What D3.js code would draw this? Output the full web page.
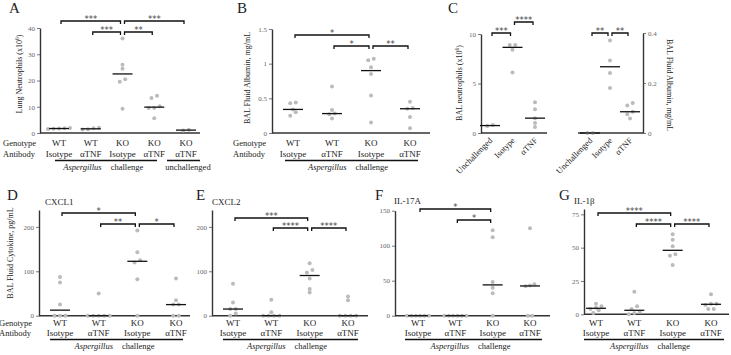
<!DOCTYPE html>
<html>
<head>
<meta charset="utf-8">
<script src="https://cdn.jsdelivr.net/npm/d3@7"></script>
<style>
  body { margin: 0; background: #fff; }
  svg { display: block; font-family: 'Liberation Serif', 'DejaVu Serif', 'Times New Roman', serif; }
  svg text { font-family: 'Liberation Serif', 'DejaVu Serif', 'Times New Roman', serif; fill: #222; }
  svg text.star { font-family: 'DejaVu Sans', sans-serif; fill: #444; }
</style>
</head>
<body>
<svg width="731" height="355"></svg>
<script>
// group labels
const genotype4 = ["WT", "WT", "KO", "KO"];
const antibody4 = ["Isotype", "αTNF", "Isotype", "αTNF"];
const genotypeA = ["WT", "WT", "KO", "KO", "KO"];
const antibodyA = ["Isotype", "αTNF", "Isotype", "αTNF", "αTNF"];
const treatmentC = ["Unchallenged", "Isotype", "αTNF"];

// values per group
const lungNeutrophils = [[1.5, 1.8, 1.9, 1.7, 1.6], [1.3, 2.0, 1.8, 1.4], [36, 26, 24.5, 20.5, 19.5, 9.2], [14.2, 13.3, 10.2, 9.5, 9.5, 5.6], [1.0, 1.2]];
const balAlbumin = [[0.44, 0.43, 0.34, 0.30, 0.25], [0.67, 0.33, 0.28, 0.27, 0.21], [1.07, 1.05, 0.95, 0.85, 0.54, 0.15], [0.45, 0.36, 0.35, 0.23, 0.07]];
const balNeutrophilsC = [[0.7, 0.8], [8.9, 8.9, 8.4, 6.1], [3.1, 2.4, 1.5, 1.0, 0.6]];
const balAlbuminC = [[0, 0], [0.37, 0.29, 0.24, 0.18], [0.12, 0.11, 0.085, 0.075, 0.058]];
const cxcl1 = [[87, 75, 25, 0, 0, 0], [50, 0, 0, 0, 0, 0], [192, 143, 125, 120, 82, 0], [84, 35, 25, 25, 0, 0]];
const cxcl2 = [[72, 30, 15, 15, 5, 0], [36, 8, 0, 0, 0, 0], [118, 103, 97, 84, 60, 52], [43, 35, 0, 0, 0, 0]];
const il17a = [[0, 0, 0, 0, 0, 0], [0, 0, 0, 0, 0, 0], [122, 112, 48, 40, 32, 0], [125, 45, 43, 42, 0, 0]];
const il1b = [[8, 6, 5, 4, 3, 1], [17, 6, 4, 2, 1, 0], [60, 56, 51, 45, 44, 37], [15, 8, 8, 7, 4, 4]];

// comparisons: [from group, to group, level, stars]
const compA = [[0, 2, 1, "***"], [2, 4, 1, "***"], [1, 2, 0, "***"], [2, 3, 0, "**"]];
const compB = [[0, 2, 1, "*"], [1, 2, 0, "*"], [2, 3, 0, "**"]];
const compC1 = [[0, 1, 0, "***"], [1, 2, 1, "****"]];
const compC2 = [[0, 1, 0, "**"], [1, 2, 0, "**"]];
const compD = [[0, 2, 1, "*"], [1, 2, 0, "**"], [2, 3, 0, "*"]];
const compE = [[0, 2, 1, "***"], [1, 2, 0, "****"], [2, 3, 0, "****"]];
const compF = [[0, 2, 1, "*"], [1, 2, 0, "*"]];
const compG = [[0, 2, 1, "****"], [1, 2, 0, "****"], [2, 3, 0, "****"]];

const svg = d3.select("svg");

// spread points that sit at nearly the same height side by side
function spread(vals, y, step) {
  const idx = d3.range(vals.length).sort((a, b) => vals[a] - vals[b]);
  const off = [];
  let cl = [];
  const flush = () => { cl.forEach((k, j) => off[k] = (j - (cl.length - 1) / 2) * step); cl = []; };
  idx.forEach(k => {
    if (cl.length && Math.abs(y(vals[k]) - y(vals[cl[0]])) > 3.5) flush();
    cl.push(k);
  });
  flush();
  return off;
}

function txt(sel, size) {
  return sel.append("text").attr("font-size", size);
}

function panel(p) {
  const g = svg.append("g");
  const y = d3.scaleLinear().domain([0, p.max]).range([p.bottom, p.top]);
  const x = d3.scalePoint().domain(d3.range(p.data.length)).range(p.xr);

  // y axis
  const axis = (p.right ? d3.axisRight(y) : d3.axisLeft(y))
    .tickValues(p.ticks).tickSize(3).tickSizeOuter(0).tickPadding(2)
    .tickFormat(d3.format(""));
  const ya = g.append("g").attr("transform", `translate(${p.ax},0)`).call(axis)
    .attr("font-family", null);
  ya.select(".domain").attr("stroke", "#333").attr("stroke-width", 1.4);
  ya.selectAll(".tick line").attr("stroke", "#555").attr("stroke-width", 0.8);
  ya.selectAll(".tick text").attr("font-size", 7).style("fill", "#666");

  // x axis line
  g.append("line").attr("x1", p.xa[0]).attr("x2", p.xa[1])
    .attr("y1", p.bottom).attr("y2", p.bottom)
    .attr("stroke", "#333").attr("stroke-width", 1.4);

  // points and medians
  p.data.forEach((vals, i) => {
    const off = spread(vals, y, p.step || 5.5);
    g.selectAll(null).data(vals).join("circle")
      .attr("cx", (d, k) => x(i) + off[k])
      .attr("cy", d => y(d))
      .attr("r", 2)
      .attr("fill", "#bbb");
    const m = d3.median(vals);
    g.append("line").attr("x1", x(i) - 10).attr("x2", x(i) + 10)
      .attr("y1", y(m)).attr("y2", y(m))
      .attr("stroke", "#111").attr("stroke-width", 1.3);
  });

  // significance brackets
  p.comps.forEach(([a, b, lev, s]) => {
    const by = p.bY - lev * p.bGap;
    const x1 = x(a) + 2, x2 = x(b) - 2;
    g.append("path").attr("d", `M${x1},${by + 3}V${by}H${x2}V${by + 3}`)
      .attr("fill", "none").attr("stroke", "#111").attr("stroke-width", 1.3);
    txt(g, 8.5).attr("class", "star").attr("x", (x1 + x2) / 2).attr("y", by + 0.5)
      .attr("text-anchor", "middle").text(s);
  });

  // panel letter and title
  if (p.letter) txt(g, 15).attr("x", p.letter[0]).attr("y", p.letter[1]).text(p.letter[2]);
  if (p.title) txt(g, 9).attr("x", p.title[0]).attr("y", p.title[1]).text(p.title[2]);

  // y label
  if (p.ylab) {
    const t = txt(g, 8)
      .attr("transform", `translate(${p.ylab[0]},${p.ylab[1]}) rotate(${p.right ? 90 : -90})`)
      .attr("text-anchor", "middle");
    t.append("tspan").text(p.ylab[2]);
    if (p.ylab[3]) {
      t.append("tspan").attr("font-size", 5.5).attr("dy", -3).text(p.ylab[3]);
      t.append("tspan").attr("dy", 3).text(")");
    }
  }

  // group labels
  if (p.geno) {
    g.selectAll(null).data(p.geno).join("text")
      .attr("x", (d, i) => x(i)).attr("y", p.rows[0])
      .attr("text-anchor", "middle").attr("font-size", 9).text(d => d);
    g.selectAll(null).data(p.anti).join("text")
      .attr("x", (d, i) => x(i)).attr("y", p.rows[1])
      .attr("text-anchor", "middle").attr("font-size", 9).text(d => d);
    if (p.rowTitle != null) {
      txt(g, 8.5).attr("x", p.rowTitle).attr("y", p.rows[0]).text("Genotype");
      txt(g, 8.5).attr("x", p.rowTitle).attr("y", p.rows[1]).text("Antibody");
    }
    g.append("line").attr("x1", p.under[0]).attr("x2", p.under[1])
      .attr("y1", p.rows[2]).attr("y2", p.rows[2]).attr("stroke", "#111").attr("stroke-width", 1.3);
    const mid = (x(1) + x(2)) / 2;
    txt(g, 8.5).attr("x", mid - 5).attr("y", p.rows[3]).attr("text-anchor", "end")
      .attr("font-style", "italic").text("Aspergillus");
    txt(g, 8.5).attr("x", mid + 4).attr("y", p.rows[3]).text("challenge");
    if (p.under2) {
      g.append("line").attr("x1", p.under2[0]).attr("x2", p.under2[1])
        .attr("y1", p.rows[2]).attr("y2", p.rows[2]).attr("stroke", "#111").attr("stroke-width", 1.3);
      txt(g, 8.5).attr("x", x(4) + 2).attr("y", p.rows[3]).attr("text-anchor", "middle")
        .text("unchallenged");
    }
  }

  // rotated treatment labels
  if (p.rot) {
    g.selectAll(null).data(p.rot).join("text")
      .attr("transform", (d, i) => `translate(${x(i) + 3},${p.bottom + 8}) rotate(-45)`)
      .attr("text-anchor", "end").attr("font-size", 8.5).text(d => d);
  }
}

const topRows = [146, 157, 160.5, 170];
const botRows = [326, 336, 339.5, 349];

panel({ data: lungNeutrophils, comps: compA, ax: 40, xa: [40, 200], xr: [59, 186], top: 28, bottom: 133,
  max: 40, ticks: [0, 10, 20, 30, 40], bY: 32, bGap: 11, letter: [9, 13, "A"],
  ylab: [22, 74, "Lung Neutrophils (x10", "6"], geno: genotypeA, anti: antibodyA, rows: topRows,
  rowTitle: 3, under: [55, 157], under2: [167, 200] });

panel({ data: balAlbumin, comps: compB, ax: 272, xa: [272, 430], xr: [293, 410], top: 29, bottom: 133,
  max: 1.5, ticks: [0, 0.5, 1, 1.5], bY: 46, bGap: 11, letter: [237, 13, "B"],
  ylab: [250, 78, "BAL Fluid Albumin, mg/mL"], geno: genotype4, anti: antibody4, rows: topRows,
  rowTitle: 233, under: [285, 418] });

panel({ data: balNeutrophilsC, comps: compC1, ax: 481, xa: [481, 547], xr: [490, 535], top: 34, bottom: 133,
  max: 10, ticks: [0, 5, 10], bY: 33, bGap: 11, letter: [448, 13, "C"],
  ylab: [462, 83, "BAL neutrophils (x10", "6"], rot: treatmentC });

panel({ data: balAlbuminC, comps: compC2, ax: 643, xa: [578, 643], xr: [590, 630], top: 33, bottom: 133,
  max: 0.4, ticks: [0, 0.2, 0.4], bY: 33, bGap: 11, right: true,
  ylab: [667, 85, "BAL Fluid Albumin, mg/mL"], rot: treatmentC });

panel({ data: cxcl1, comps: compD, ax: 39, xa: [39, 190], xr: [60, 176], top: 210, bottom: 315.7,
  max: 238, ticks: [0, 100, 200], bY: 224, bGap: 11, letter: [7, 200, "D"], title: [45, 205, "CXCL1"],
  ylab: [13, 253, "BAL Fluid Cytokine, pg/mL"], geno: genotype4, anti: antibody4, rows: botRows,
  rowTitle: -1, under: [50, 183] });

panel({ data: cxcl2, comps: compE, ax: 212, xa: [212, 368], xr: [233, 348], top: 210, bottom: 315.7,
  max: 238, ticks: [0, 100, 200], bY: 228, bGap: 10, letter: [196, 200, "E"], title: [212, 205, "CXCL2"],
  geno: genotype4, anti: antibody4, rows: botRows, under: [223, 358] });

panel({ data: il17a, comps: compF, ax: 395, xa: [395, 550], xr: [418, 530], top: 210.7, bottom: 315.7,
  max: 150, ticks: [0, 50, 100, 150], bY: 220, bGap: 11, step: 4.4, letter: [375, 200, "F"], title: [394, 204, "IL-17A"],
  geno: genotype4, anti: antibody4, rows: botRows, under: [405, 542] });

panel({ data: il1b, comps: compG, ax: 584, xa: [584, 729], xr: [596, 711], top: 209, bottom: 314.3,
  max: 79, ticks: [0, 25, 50, 75], bY: 224, bGap: 11, letter: [559, 200, "G"], title: [574, 204, "IL-1β"],
  geno: genotype4, anti: antibody4, rows: botRows, under: [584, 724] });
</script>
</body>
</html>
